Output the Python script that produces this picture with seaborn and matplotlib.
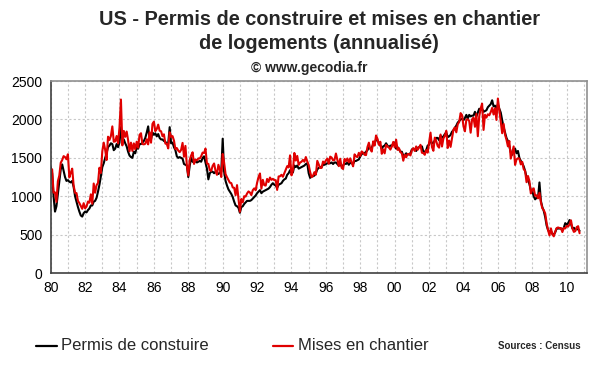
import numpy as np
import pandas as pd
import matplotlib
matplotlib.use('Agg')
import matplotlib.pyplot as plt
import seaborn as sns

sns.set_style('white')
plt.rcParams['font.family'] = ['Liberation Sans', 'DejaVu Sans']

# monthly series, Jan 1980 -> Oct 2010 (thousands, annualised)
permis = [
    1380, 1300, 1000, 800, 870, 1030, 1200, 1350, 1415, 1330, 1250, 1200,
    1210, 1190, 1180, 1200, 1120, 1000, 930, 860, 800, 750, 735, 780,
    800, 790, 820, 840, 880, 880, 930, 940, 980, 1060, 1150, 1260,
    1380, 1430, 1500, 1560, 1640, 1660, 1690, 1680, 1600, 1620, 1680, 1640,
    1700, 1900, 1720, 1740, 1690, 1650, 1580, 1530, 1510, 1500, 1580, 1560,
    1640, 1620, 1680, 1680, 1700, 1720, 1760, 1830, 1910, 1740, 1740, 1830,
    1800, 1820, 1780, 1810, 1760, 1740, 1740, 1720, 1710, 1680, 1690, 1900,
    1690, 1700, 1640, 1600, 1520, 1500, 1510, 1500, 1490, 1420, 1410, 1400,
    1250, 1400, 1500, 1450, 1440, 1460, 1440, 1450, 1460, 1450, 1500, 1520,
    1440, 1360, 1220, 1300, 1320, 1320, 1300, 1320, 1300, 1290, 1310, 1320,
    1750, 1320, 1200, 1140, 1090, 1060, 1030, 990, 930, 880, 870, 850,
    785, 860, 870, 900, 920, 940, 940, 940, 950, 970, 990, 1010,
    1040, 1060, 1080, 1040, 1060, 1070, 1080, 1090, 1100, 1120, 1150, 1170,
    1150, 1140, 1110, 1150, 1160, 1170, 1200, 1220, 1230, 1280, 1300, 1340,
    1300, 1310, 1400, 1380, 1400, 1360, 1370, 1380, 1390, 1400, 1420, 1430,
    1300, 1240, 1260, 1260, 1270, 1300, 1350, 1370, 1380, 1380, 1410, 1410,
    1420, 1430, 1430, 1430, 1440, 1420, 1440, 1440, 1420, 1400, 1420, 1390,
    1400, 1430, 1420, 1440, 1410, 1440, 1430, 1420, 1460, 1460, 1470, 1480,
    1520, 1550, 1560, 1560, 1580, 1600, 1640, 1620, 1630, 1680, 1690, 1740,
    1730, 1690, 1660, 1620, 1650, 1660, 1690, 1660, 1640, 1660, 1660, 1680,
    1700, 1620, 1640, 1610, 1580, 1580, 1530, 1530, 1560, 1540, 1550, 1560,
    1610, 1620, 1610, 1590, 1630, 1640, 1640, 1650, 1580, 1580, 1600, 1660,
    1670, 1740, 1690, 1690, 1730, 1760, 1760, 1730, 1790, 1760, 1780, 1810,
    1830, 1770, 1780, 1800, 1840, 1860, 1890, 1920, 1960, 1980, 2000, 2010,
    1990, 2020, 2060, 2010, 2060, 2040, 2050, 2050, 2100, 2040, 2090, 2140,
    2120, 2140, 2100, 2110, 2120, 2160, 2180, 2200, 2250, 2170, 2180, 2140,
    2200, 2140, 2090, 1990, 1900, 1830, 1760, 1720, 1650, 1570, 1540, 1610,
    1620, 1560, 1590, 1500, 1460, 1430, 1390, 1330, 1250, 1210, 1160, 1080,
    1070, 1000, 960, 980, 980, 1180, 940, 860, 810, 730, 620, 560,
    530, 550, 510, 500, 530, 580, 580, 580, 580, 560, 590, 650,
    630, 650, 690, 640, 580, 590, 570, 570, 570, 550,
]

mises = [
    1341, 1350, 1047, 1051, 927, 1196, 1269, 1436, 1471, 1523, 1510, 1482,
    1547, 1246, 1306, 1360, 1140, 1045, 1041, 940, 911, 873, 837, 910,
    843, 866, 931, 917, 1025, 902, 1166, 1046, 1144, 1173, 1372, 1303,
    1586, 1699, 1606, 1472, 1776, 1733, 1785, 1910, 1710, 1715, 1785, 1688,
    1897, 2260, 1663, 1851, 1774, 1843, 1732, 1586, 1698, 1590, 1689, 1612,
    1711, 1632, 1800, 1821, 1680, 1676, 1684, 1743, 1676, 1834, 1698, 1942,
    1972, 1848, 1876, 1933, 1854, 1847, 1782, 1807, 1687, 1681, 1623, 1833,
    1774, 1784, 1726, 1614, 1628, 1594, 1575, 1605, 1695, 1515, 1656, 1400,
    1271, 1473, 1532, 1573, 1421, 1478, 1467, 1493, 1492, 1522, 1569, 1563,
    1621, 1425, 1422, 1339, 1331, 1397, 1427, 1332, 1279, 1410, 1351, 1251,
    1551, 1437, 1289, 1248, 1212, 1177, 1171, 1115, 1110, 1014, 1145, 969,
    798, 965, 921, 1001, 996, 1036, 1063, 1049, 1015, 1079, 1103, 1079,
    1176, 1250, 1297, 1099, 1214, 1145, 1139, 1226, 1186, 1244, 1214, 1227,
    1210, 1210, 1083, 1258, 1260, 1280, 1254, 1300, 1343, 1392, 1376, 1533,
    1272, 1337, 1564, 1465, 1526, 1409, 1439, 1450, 1474, 1450, 1511, 1455,
    1407, 1316, 1249, 1267, 1314, 1281, 1461, 1416, 1369, 1369, 1452, 1431,
    1467, 1491, 1424, 1516, 1504, 1467, 1472, 1557, 1475, 1392, 1489, 1370,
    1355, 1486, 1457, 1492, 1442, 1494, 1437, 1390, 1546, 1520, 1510, 1566,
    1525, 1584, 1567, 1540, 1536, 1641, 1698, 1614, 1582, 1715, 1660, 1792,
    1748, 1670, 1710, 1553, 1611, 1559, 1669, 1648, 1635, 1608, 1648, 1708,
    1636, 1737, 1604, 1626, 1575, 1559, 1463, 1541, 1507, 1549, 1551, 1532,
    1600, 1625, 1590, 1649, 1605, 1636, 1670, 1567, 1562, 1540, 1602, 1568,
    1698, 1829, 1642, 1592, 1764, 1717, 1655, 1633, 1804, 1648, 1753, 1788,
    1853, 1629, 1726, 1643, 1751, 1867, 1897, 1833, 1939, 1967, 2083, 2057,
    1911, 1846, 1998, 2003, 1981, 1828, 2002, 2024, 1905, 2072, 1782, 2042,
    2144, 2207, 1864, 2061, 2025, 2068, 2054, 2095, 2151, 2065, 2147, 1994,
    2273, 2119, 1969, 1821, 1942, 1802, 1737, 1650, 1720, 1491, 1570, 1649,
    1409, 1480, 1495, 1490, 1415, 1448, 1354, 1330, 1183, 1264, 1197, 1037,
    1084, 1103, 1005, 1013, 973, 1046, 923, 844, 820, 777, 652, 560,
    490, 582, 505, 478, 540, 585, 594, 586, 585, 534, 588, 581,
    614, 604, 636, 687, 583, 536, 546, 599, 610, 519,
]

tick_years = list(range(1980, 2011, 2))
tick_labels = ['%02d' % (y % 100) for y in tick_years]

annees = 1980 + np.arange(len(mises)) / 12.0
df = pd.DataFrame({'date': annees, 'Permis de constuire': permis, 'Mises en chantier': mises})
df_long = df.melt(id_vars='date', var_name='serie', value_name='valeur')

fig = plt.figure(figsize=(6.0, 3.72), dpi=100)
ax = fig.add_axes([0.0845, 0.266, 0.8935, 0.516])

sns.lineplot(data=df_long, x='date', y='valeur', hue='serie',
             palette={'Permis de constuire': 'black', 'Mises en chantier': '#e00000'},
             linewidth=1.5, ax=ax, legend=False)

ax.set_xlim(1980, 2011.17)
ax.set_ylim(0, 2500)
ax.set_xticks(tick_years)
ax.set_xticklabels(tick_labels)
ax.set_xticks(range(1981, 2012, 1), minor=True)
ax.set_yticks(range(0, 2501, 500))
ax.set_xlabel('')
ax.set_ylabel('')
ax.tick_params(axis='x', which='major', direction='inout', length=7, width=1, colors='#404040',
               labelcolor='black', labelsize=10, pad=2)
ax.tick_params(axis='x', which='minor', length=0)
ax.tick_params(axis='y', direction='out', length=4, width=1, colors='#404040',
               labelcolor='black', labelsize=10, pad=2)
ax.grid(True, axis='y', linestyle=(0, (2, 2)), color='#c8c8c8', linewidth=0.8)
ax.grid(True, axis='x', which='both', linestyle=(0, (2, 2)), color='#c8c8c8', linewidth=0.8)
for side in ['top', 'right']:
    ax.spines[side].set_color('#909090')
    ax.spines[side].set_linewidth(1.2)
for side in ['left', 'bottom']:
    ax.spines[side].set_color('#404040')
    ax.spines[side].set_linewidth(1.2)

fig.text(0.532, 0.947, 'US - Permis de construire et mises en chantier',
         ha='center', va='center', fontsize=14.4, fontweight='bold')
fig.text(0.532, 0.883, 'de logements (annualisé)',
         ha='center', va='center', fontsize=14.4, fontweight='bold')
fig.text(0.515, 0.818, '© www.gecodia.fr',
         ha='center', va='center', fontsize=10, fontweight='bold')

# legend at the bottom
fig.add_artist(plt.Line2D([0.06, 0.095], [0.07, 0.07], color='black', linewidth=1.6))
fig.text(0.101, 0.07, 'Permis de constuire', ha='left', va='center', fontsize=12)
fig.add_artist(plt.Line2D([0.455, 0.489], [0.07, 0.07], color='#e00000', linewidth=1.6))
fig.text(0.496, 0.07, 'Mises en chantier', ha='left', va='center', fontsize=12)
fig.text(0.83, 0.07, 'Sources : Census', ha='left', va='center', fontsize=7, fontweight='bold')

fig.savefig('out.png', dpi=100)
